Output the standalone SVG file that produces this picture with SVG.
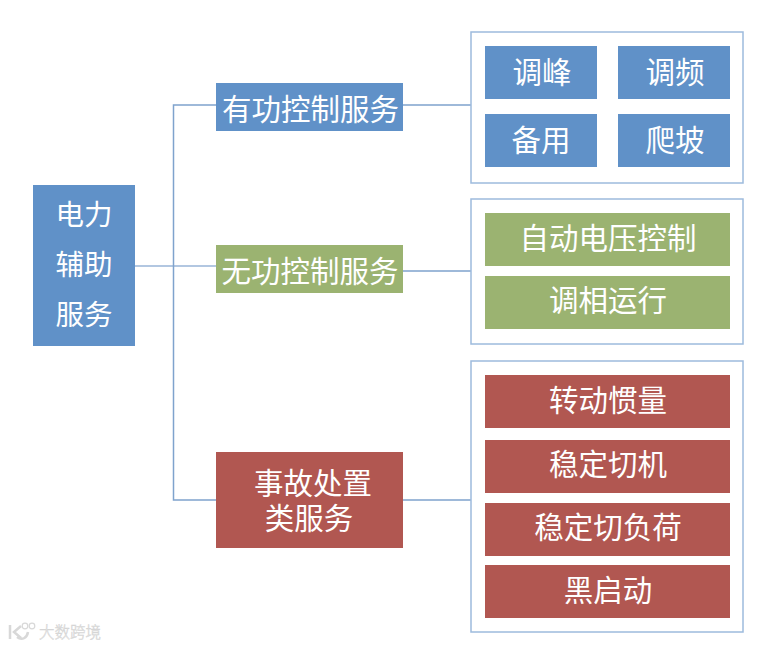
<svg xmlns="http://www.w3.org/2000/svg" width="784" height="648" viewBox="0 0 784 648">
<style>
text{font-family:"Noto Sans CJK SC","Noto Sans CJK JP",sans-serif;fill:#fff;text-anchor:middle;font-size:29.500px}
.b{fill:#6091c8}.g{fill:#9bb371}.r{fill:#b15751}
.box{fill:#fff;stroke:#9dbbdd;stroke-width:1.5}
.c{fill:none;stroke:#7fa3cd;stroke-width:1.5}
.wm{fill:#e8e8e8;stroke:#d2d2d2;stroke-width:.4;font-size:15.500px;font-weight:300;text-anchor:start}
.lg{fill:none;stroke:#d8d8d8;stroke-width:2.500}
.lo{fill:none;stroke:#d8d8d8;stroke-width:1.200}
</style>
<rect width="784" height="648" fill="#fff"/>
<g id="connectors">
<path class="c" d="M403 105H173.500V500H216"/>
<path class="c" d="M135 266H216" stroke-opacity=".8"/>
<path class="c" d="M403 105H471M403 271H471M403 500H471"/>
</g>
<g id="root"><rect class="b" x="33" y="185" width="102" height="161"/>
<text style="font-size:28.500px"><tspan x="84" y="225">电力</tspan><tspan x="84" y="275">辅助</tspan><tspan x="84" y="325">服务</tspan></text></g>
<g id="active"><rect class="b" x="216" y="83" width="187" height="48"/><text x="310.500" y="120">有功控制服务</text></g>
<g id="reactive"><rect class="g" x="216" y="245" width="187" height="48"/><text x="310" y="282">无功控制服务</text></g>
<g id="fault"><rect class="r" x="216" y="452" width="187" height="96"/>
<text><tspan x="313" y="494">事故处置</tspan><tspan x="309" y="529">类服务</tspan></text></g>
<g id="group-active"><rect class="box" x="471" y="32" width="272" height="151"/></g>
<g id="group-reactive"><rect class="box" x="471" y="199" width="272" height="145"/></g>
<g id="group-fault"><rect class="box" x="471" y="361" width="272" height="271"/></g>
<g id="n1"><rect class="b" x="485" y="46" width="112" height="53"/><text x="542" y="83">调峰</text></g>
<g id="n2"><rect class="b" x="618" y="46" width="112" height="53"/><text x="675" y="83">调频</text></g>
<g id="n3"><rect class="b" x="485" y="114" width="112" height="53"/><text x="541" y="151">备用</text></g>
<g id="n4"><rect class="b" x="618" y="114" width="112" height="53"/><text x="675" y="151">爬坡</text></g>
<g id="n5"><rect class="g" x="485" y="213" width="245" height="53"/><text x="608" y="249">自动电压控制</text></g>
<g id="n6"><rect class="g" x="485" y="276" width="245" height="53"/><text x="608" y="311">调相运行</text></g>
<g id="n7"><rect class="r" x="485" y="375" width="245" height="53"/><text x="608" y="411">转动惯量</text></g>
<g id="n8"><rect class="r" x="485" y="440" width="245" height="53"/><text x="608" y="475">稳定切机</text></g>
<g id="n9"><rect class="r" x="485" y="503" width="245" height="53"/><text x="608" y="538">稳定切负荷</text></g>
<g id="n10"><rect class="r" x="485" y="565" width="245" height="53"/><text x="608" y="601">黑启动</text></g>
<g id="watermark">
<path class="lg" d="M10 625V639M21 626L14 632L21 638M17 637C22 641 27 638 28 632"/>
<circle class="lo" cx="25" cy="626" r="2.800"/><circle class="lo" cx="32" cy="626" r="2.800"/>
<text class="wm" x="39" y="638">大数跨境</text>
</g>
</svg>
